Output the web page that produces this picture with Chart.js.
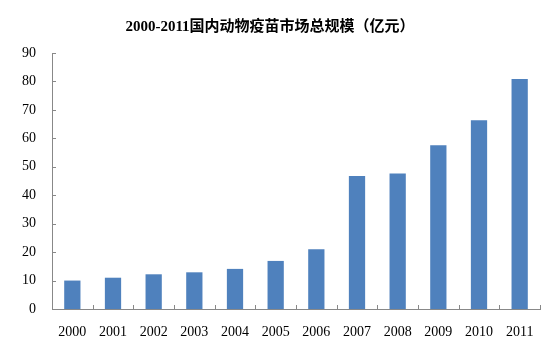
<!DOCTYPE html>
<html><head><meta charset="utf-8">
<script src="https://cdn.jsdelivr.net/npm/chart.js@4/dist/chart.umd.min.js"></script>
<style>html,body{margin:0;padding:0;background:#fff}#wrap{width:554px;height:358px}</style>
</head><body><div id="wrap"><canvas id="c" width="554" height="358"></canvas></div>
<script>
const years = ['2000','2001','2002','2003','2004','2005','2006','2007','2008','2009','2010','2011'];
const marketSize = [10, 11, 12.2, 12.9, 14.1, 16.9, 21, 46.8, 47.6, 57.6, 66.4, 80.9];
const yTicks = [0,10,20,30,40,50,60,70,80,90];
const titleText = '2000-2011国内动物疫苗市场总规模（亿元）';

const innerTicks = {
  id: 'innerTicks',
  afterDatasetsDraw(chart) {
    const {ctx, scales:{x, y}, chartArea:a} = chart;
    ctx.save();
    ctx.strokeStyle = '#888';
    ctx.lineWidth = 1;
    ctx.beginPath();
    const n = x.ticks.length;
    for (let i = 0; i <= n; i++) {
      const px = Math.round(x.getPixelForValue(i - 0.5)) + 0.5;
      ctx.moveTo(px, a.bottom); ctx.lineTo(px, a.bottom - 4);
    }
    yTicks.forEach(v => {
      const py = Math.round(y.getPixelForValue(v)) + 0.5;
      ctx.moveTo(a.left, py); ctx.lineTo(a.left + 4, py);
    });
    ctx.stroke();
    ctx.restore();
  }
};

new Chart(document.getElementById('c'), {
  type: 'bar',
  data: { labels: years, datasets: [{ data: marketSize, backgroundColor: '#4F81BD', barPercentage: 0.4, categoryPercentage: 1 }] },
  options: {
    responsive: false, animation: false,
    layout: { padding: { left: 0, right: 14, top: 0, bottom: 0 } },
    plugins: {
      legend: { display: false }, tooltip: { enabled: false },
      title: { display: true, text: titleText, color: '#000',
        font: { family: '"Liberation Serif","Noto Sans CJK SC",serif', size: 15, weight: 'bold', lineHeight: 1.2 },
        padding: { top: 18, bottom: 17 } }
    },
    scales: {
      x: {
        grid: { display: false, drawTicks: false },
        border: { display: true, color: '#888', width: 1 },
        ticks: { color: '#000', padding: 15, maxRotation: 0, autoSkip: false,
          font: { family: '"Liberation Serif",serif', size: 14 } },
        afterFit(s) { s.height = 49; }
      },
      y: {
        min: 0, max: 90,
        grid: { display: false, drawTicks: false },
        border: { display: true, color: '#888', width: 1 },
        ticks: { stepSize: 10, color: '#000', padding: 16,
          font: { family: '"Liberation Serif",serif', size: 14 } },
        afterFit(s) { s.width = 52; }
      }
    }
  },
  plugins: [innerTicks]
});
</script></body></html>
